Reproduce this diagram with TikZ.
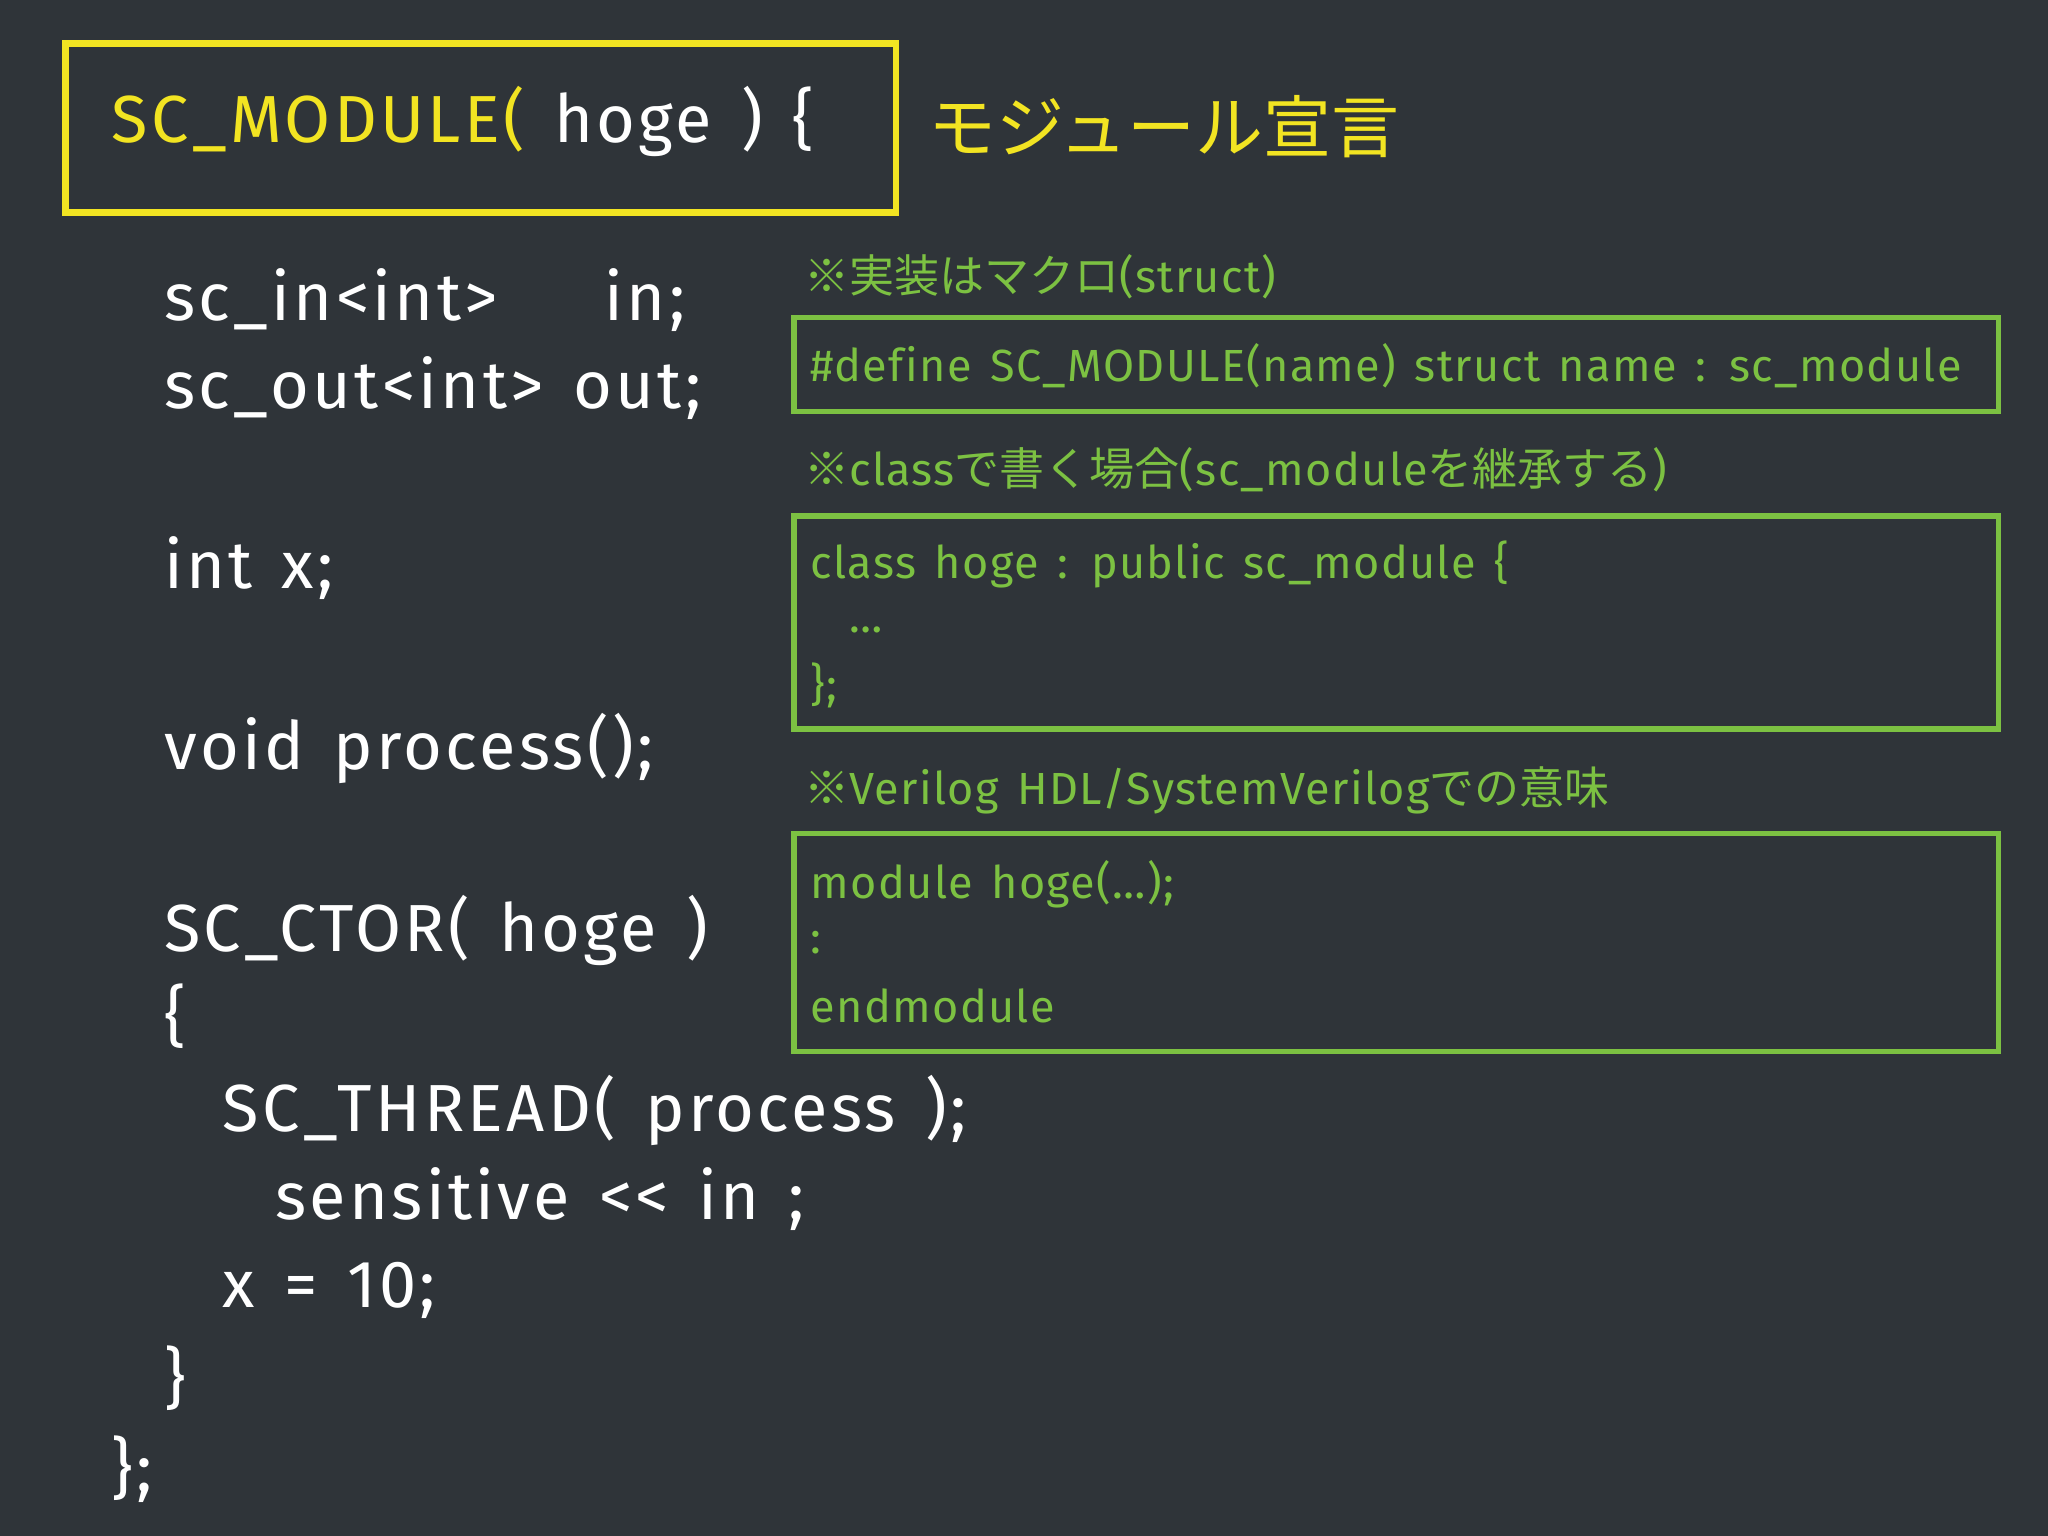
\documentclass[tikz,border=0pt]{standalone}
\usepackage{fontspec}
\setmainfont{Fira Sans}[LetterSpace=5,WordSpace=1.4,Ligatures=NoCommon]
\newfontfamily\notefont{Fira Sans}[LetterSpace=3,WordSpace=1.4,Ligatures=NoCommon]
\newfontfamily\jp{Noto Sans CJK JP}
\begin{document}
\begin{tikzpicture}[x=0.01cm,y=-0.01cm,
  code/.style={anchor=west,text=white,font=\fontsize{14.5}{16}\selectfont,inner sep=0},
  note/.style={anchor=west,text=notegreen,font=\notefont\fontsize{9.8}{11}\selectfont,inner sep=0},
  gbox/.style={draw=notegreen,line width=1.2pt}]
\definecolor{bg}{HTML}{2F3439}
\definecolor{yel}{HTML}{F2E422}
\definecolor{notegreen}{HTML}{7CC142}
\fill[bg] (0,0) rectangle (1568,1176);
\useasboundingbox (0,0) rectangle (1568,1176);
\draw[draw=yel,line width=1.5pt] (50,33) rectangle (686,163);
\node[code] (t1) at (85,93) {\textcolor{yel}{SC\_MODULE(} hoge ) \{};
\node[anchor=west,text=yel,font=\jp\fontsize{14.8}{16}\selectfont,inner sep=0] (t2) at (710,97) {モジュール宣言};
\node[code] (c1) at (125,230) {sc\_in<int>\hspace{1.6em}in;};
\node[code] (c2) at (125,297) {sc\_out<int> out;};
\node[code] (c3) at (125,435) {int x;};
\node[code] (c4) at (125,573) {void process();};
\node[code] (c5) at (125,712) {SC\_CTOR( hoge )};
\node[code] (c6) at (125,778) {\{};
\node[code] (c7) at (170,850) {SC\_THREAD( process );};
\node[code] (c8) at (210,918) {sensitive \symbol{60}\symbol{60} in ;};
\node[code] (c9) at (170,988) {x = 10;};
\node[code] (c10) at (125,1055) {\}};
\node[code] (c11) at (85,1125) {\};};
\node[note] (n1) at (615,212) {{\jp ※実装はマクロ}(struct)};
\draw[gbox] (608,243) rectangle (1530,315);
\node[note] (b1) at (620,280) {\#define SC\_MODULE(name) struct name : sc\_module};
\node[note] (n2) at (615,360) {{\jp ※}class{\jp で書く場合}(sc\_module{\jp を継承する})};
\draw[gbox] (608,395) rectangle (1530,558);
\node[note] (b2) at (620,432) {class hoge : public sc\_module \{};
\node[note] (b3) at (650,482) {…};
\node[note] (b4) at (620,525) {\};};
\node[note] (n3) at (615,605) {{\jp ※}Verilog HDL/SystemVerilog{\jp での意味}};
\draw[gbox] (608,638) rectangle (1530,805);
\node[note] (b5) at (620,677) {module hoge(…);};
\node[note] (b6) at (620,722) {:};
\node[note] (b7) at (620,770) {endmodule};
\end{tikzpicture}
\end{document}
